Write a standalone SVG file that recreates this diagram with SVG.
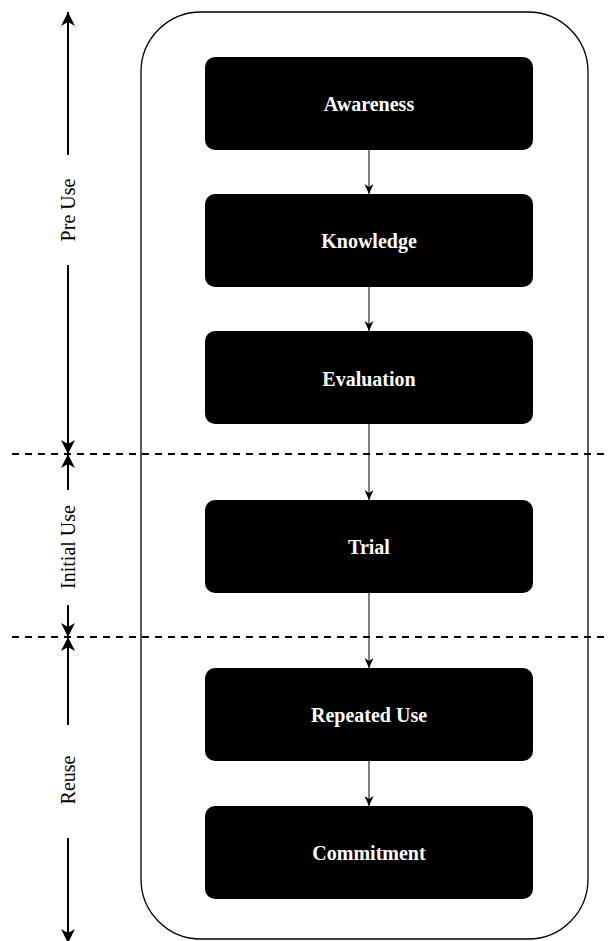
<svg xmlns="http://www.w3.org/2000/svg" width="608" height="941" viewBox="0 0 608 941">
  <style>
    .stage rect { fill: #000; }
    .stage text { fill: #fff; font-family: "Liberation Serif", "Times New Roman", serif; font-weight: bold; font-size: 20px; text-anchor: middle; dominant-baseline: central; }
    .phase { fill: #000; font-family: "Liberation Serif", "Times New Roman", serif; font-size: 20px; text-anchor: middle; dominant-baseline: central; }
    .span { stroke: #000; stroke-width: 2; fill: none; marker-end: url(#bigHead); }
    .flow { stroke: #000; stroke-width: 1; fill: none; marker-end: url(#smallHead); }
    .divider { stroke: #000; stroke-width: 2; stroke-dasharray: 7 6; fill: none; }
  </style>
  <defs>
    <marker id="bigHead" markerUnits="userSpaceOnUse" viewBox="0 0 14 14" refX="14" refY="7" markerWidth="14" markerHeight="14" orient="auto">
      <path d="M0,0 L14,7 L0,14 L4,7 Z" fill="#000"/>
    </marker>
    <marker id="smallHead" markerUnits="userSpaceOnUse" viewBox="0 0 10 10" refX="10" refY="5" markerWidth="10" markerHeight="10" orient="auto">
      <path d="M0,0.5 L10,5 L0,9.5 L3,5 Z" fill="#000"/>
    </marker>
  </defs>

  <rect id="container" x="141" y="12" width="447" height="927" rx="60" ry="60" fill="none" stroke="#000" stroke-width="1.3"/>

  <g id="phase-dividers">
    <line class="divider" x1="12" y1="454" x2="608" y2="454"/>
    <line class="divider" x1="12" y1="637" x2="608" y2="637"/>
  </g>

  <g id="connectors">
    <line class="flow" x1="369" y1="150" x2="369" y2="194"/>
    <line class="flow" x1="369" y1="287" x2="369" y2="331"/>
    <line class="flow" x1="369" y1="424" x2="369" y2="500"/>
    <line class="flow" x1="369" y1="593" x2="369" y2="668"/>
    <line class="flow" x1="369" y1="761" x2="369" y2="806"/>
  </g>

  <g id="awareness" class="stage"><rect x="205" y="57" width="328" height="93" rx="10"/><text x="369" y="104">Awareness</text></g>
  <g id="knowledge" class="stage"><rect x="205" y="194" width="328" height="93" rx="10"/><text x="369" y="241">Knowledge</text></g>
  <g id="evaluation" class="stage"><rect x="205" y="331" width="328" height="93" rx="10"/><text x="369" y="379">Evaluation</text></g>
  <g id="trial" class="stage"><rect x="205" y="500" width="328" height="93" rx="10"/><text x="369" y="547">Trial</text></g>
  <g id="repeated-use" class="stage"><rect x="205" y="668" width="328" height="93" rx="10"/><text x="369" y="715">Repeated Use</text></g>
  <g id="commitment" class="stage"><rect x="205" y="806" width="328" height="93" rx="10"/><text x="369" y="853">Commitment</text></g>

  <g id="pre-use">
    <line class="span" x1="68" y1="155" x2="68" y2="12"/>
    <line class="span" x1="68" y1="265" x2="68" y2="454"/>
    <text class="phase" transform="translate(68 210) rotate(-90)">Pre Use</text>
  </g>
  <g id="initial-use">
    <line class="span" x1="68" y1="490" x2="68" y2="454"/>
    <line class="span" x1="68" y1="605" x2="68" y2="637"/>
    <text class="phase" transform="translate(68 547) rotate(-90)">Initial Use</text>
  </g>
  <g id="reuse">
    <line class="span" x1="68" y1="725" x2="68" y2="637"/>
    <line class="span" x1="68" y1="838" x2="68" y2="943"/>
    <text class="phase" transform="translate(68 780) rotate(-90)">Reuse</text>
  </g>
</svg>
